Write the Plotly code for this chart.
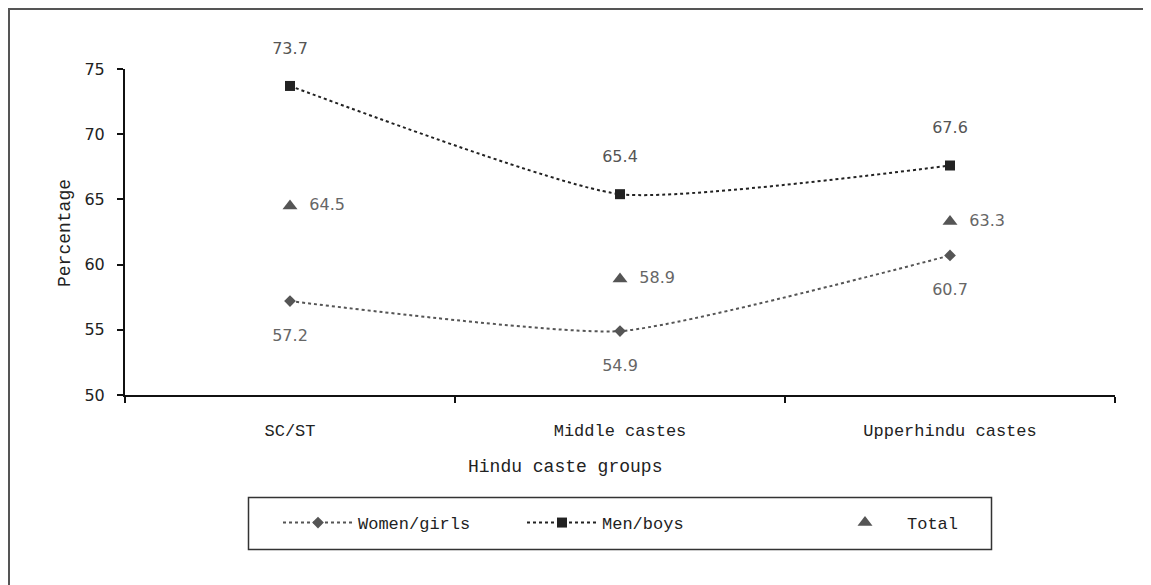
import plotly.graph_objects as go

categories = ["SC/ST", "Middle castes", "Upperhindu castes"]
women = [57.2, 54.9, 60.7]
men = [73.7, 65.4, 67.6]
total = [64.5, 58.9, 63.3]
y_ticks = [50, 55, 60, 65, 70, 75]

# page is offset by 8px body margin -> work in figure coordinates
OFF = 8
W, H = 1151 - OFF, 585 - OFF
L, T = 125 - OFF, 69 - OFF
R = W - (1115 - OFF)
B = H - (395 - OFF)
pw, ph = W - L - R, H - T - B


def px(x):  # page x -> paper
    return (x - OFF - L) / pw


def py(y):  # page y -> paper
    return (H - B - (y - OFF)) / ph


mono = "Liberation Mono"
sans = "DejaVu Sans"

fig = go.Figure()
fig.add_trace(go.Scatter(
    x=categories, y=women, name="Women/girls", mode="lines+markers+text",
    line=dict(color="#555555", width=2, dash="dot", shape="spline", smoothing=0.5),
    marker=dict(symbol="diamond", size=9, color="#555555"),
    text=[" <br>" + f"{v:.1f}" for v in women], textposition="bottom center",
    textfont=dict(family=sans, size=16, color="#666666"),
    cliponaxis=False, legend="legend",
))
fig.add_trace(go.Scatter(
    x=categories, y=men, name="Men/boys", mode="lines+markers+text",
    line=dict(color="#222222", width=2, dash="dot", shape="spline", smoothing=0.5),
    marker=dict(symbol="square", size=10, color="#222222"),
    text=[f"{v:.1f}" + "<br> " for v in men], textposition="top center",
    textfont=dict(family=sans, size=16, color="#555555"),
    cliponaxis=False, legend="legend2",
))
fig.add_trace(go.Scatter(
    x=categories, y=total, name="Total", mode="markers+text",
    marker=dict(symbol="triangle-up", size=13, color="#555555"),
    text=["  " + f"{v:.1f}" for v in total], textposition="middle right",
    textfont=dict(family=sans, size=16, color="#666666"),
    cliponaxis=False, legend="legend3",
))

leg_common = dict(
    orientation="h", yanchor="middle", y=py(523), xanchor="left",
    borderwidth=0, itemwidth=70, bgcolor="rgba(0,0,0,0)",
    font=dict(family=mono, size=17, color="#222222"),
)

fig.update_layout(
    width=W, height=H,
    margin=dict(l=L, r=R, t=T, b=B),
    paper_bgcolor="white", plot_bgcolor="white",
    showlegend=True,
    legend=dict(x=px(278), **leg_common),
    legend2=dict(x=px(522), **leg_common),
    legend3=dict(x=px(823), itemwidth=74, **{k: v for k, v in leg_common.items() if k != "itemwidth"}),
    xaxis=dict(
        type="category", range=[-0.5, 2.5], showgrid=False, zeroline=False,
        showline=True, linecolor="#111111", linewidth=2,
        ticks="outside", tickson="boundaries", ticklen=6, tickcolor="#111111",
        tickwidth=2, ticklabelstandoff=19,
        tickfont=dict(family=mono, size=17, color="#222222"),
    ),
    yaxis=dict(
        range=[50, 75], tickvals=y_ticks, showgrid=False, zeroline=False,
        showline=True, linecolor="#111111", linewidth=2,
        ticks="outside", ticklen=6, tickcolor="#111111", tickwidth=2,
        ticklabelstandoff=9,
        tickfont=dict(family=sans, size=16, color="#222222"),
    ),
    annotations=[
        dict(text="Hindu caste groups", x=px(565), y=py(467), xref="paper", yref="paper",
             showarrow=False, xanchor="center", yanchor="middle",
             font=dict(family=mono, size=18, color="#222222")),
        dict(text="Percentage", x=px(65), y=py(233), xref="paper", yref="paper",
             showarrow=False, xanchor="center", yanchor="middle", textangle=-90,
             font=dict(family=mono, size=18, color="#222222")),
    ],
    shapes=[
        dict(type="rect", xref="paper", yref="paper",
             x0=px(9), x1=px(1300), y0=py(9), y1=py(800),
             line=dict(color="#555555", width=2), layer="below"),
        dict(type="rect", xref="paper", yref="paper",
             x0=px(248.5), x1=px(991.5), y0=py(497.5), y1=py(549.5),
             line=dict(color="#333333", width=1.5), layer="below"),
    ],
)

fig.write_html("out.html")
